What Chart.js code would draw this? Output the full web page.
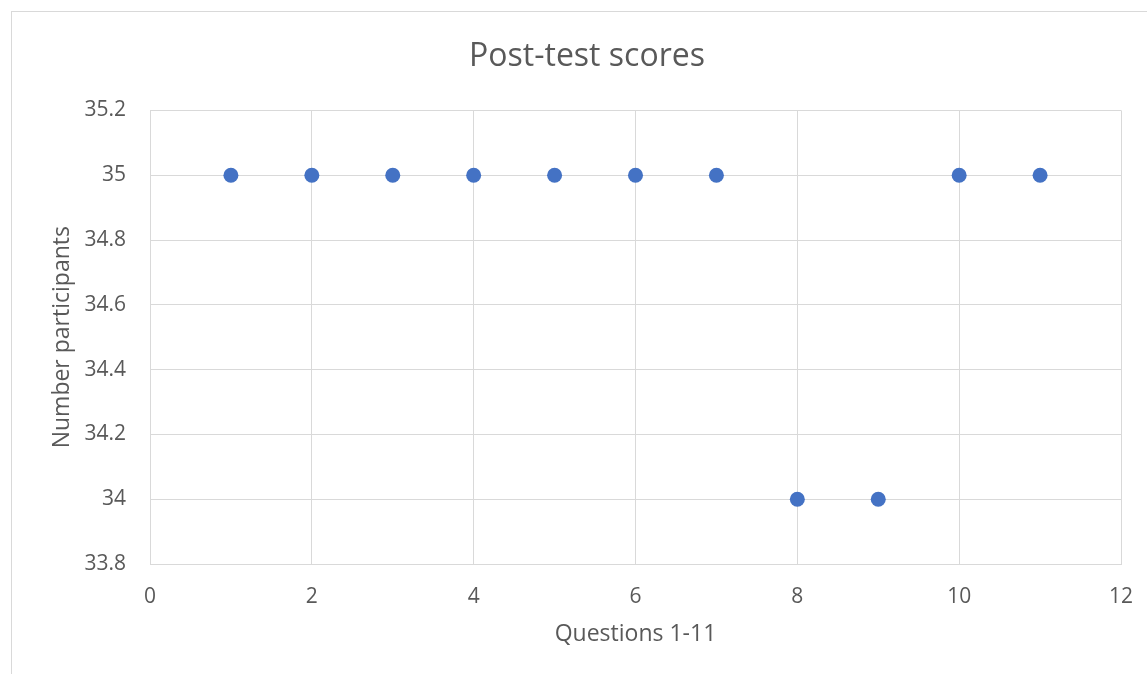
<!DOCTYPE html>
<html>
<head>
<meta charset="utf-8">
<script src="https://cdn.jsdelivr.net/npm/chart.js@4"></script>
<style>
    html, body { margin: 0; padding: 0; background: #ffffff; overflow: hidden; }
    #frame { position: absolute; left: 11px; top: 11px; width: 2000px; height: 2000px; border: 1px solid #d9d9d9; }
    #scoresChart { position: absolute; left: 0; top: 0; }
</style>
</head>
<body>
<div id="frame"></div>
<canvas id="scoresChart" width="1147" height="674"></canvas>
<script>
const questions = [1, 2, 3, 4, 5, 6, 7, 8, 9, 10, 11];
const participants = [35, 35, 35, 35, 35, 35, 35, 34, 34, 35, 35];
const xTicks = [0, 2, 4, 6, 8, 10, 12];
const yTicks = [33.8, 34, 34.2, 34.4, 34.6, 34.8, 35, 35.2];

const textColor = "#595959";
const gridColor = "#d9d9d9";
const fontFamily = "'Open Sans', sans-serif";

new Chart(document.getElementById("scoresChart"),
{
    type: "scatter",
    data:
    {
        datasets:
        [
            {
                label: "Post-test scores",
                data: questions.map((q, i) => ({ x: q, y: participants[i] })),
                backgroundColor: "#4472c4",
                borderColor: "#4472c4",
                pointRadius: 7.5,
                pointHoverRadius: 7.5,
                borderWidth: 0
            }
        ]
    },
    options:
    {
        responsive: false,
        animation: false,
        layout:
        {
            padding: { left: 53, right: 26, top: 0, bottom: 0 }
        },
        plugins:
        {
            legend: { display: false },
            tooltip: { enabled: false },
            title:
            {
                display: true,
                text: "Post-test scores",
                color: textColor,
                font: { family: fontFamily, size: 32, weight: "normal" },
                padding: { top: 38, bottom: 34 }
            }
        },
        scales:
        {
            x:
            {
                type: "linear",
                min: 0,
                max: 12,
                afterBuildTicks: scale => { scale.ticks = xTicks.map(v => ({ value: v })); },
                afterFit: scale =>
                {
                    scale.height = 110;
                    scale.paddingLeft = 0;
                    scale.paddingRight = 0;
                },
                grid: { color: gridColor, drawTicks: false },
                border: { color: gridColor },
                ticks:
                {
                    color: textColor,
                    padding: 20,
                    font: { family: fontFamily, size: 21 },
                    callback: v => String(v)
                },
                title:
                {
                    display: true,
                    text: "Questions 1-11",
                    color: textColor,
                    font: { family: fontFamily, size: 23 },
                    padding: { top: 0, bottom: 26 }
                }
            },
            y:
            {
                type: "linear",
                min: 33.8,
                max: 35.2,
                afterBuildTicks: scale => { scale.ticks = yTicks.map(v => ({ value: v })); },
                afterFit: scale => { scale.width = 97; },
                grid: { color: gridColor, drawTicks: false },
                border: { color: gridColor },
                ticks:
                {
                    color: textColor,
                    padding: 24,
                    font: { family: fontFamily, size: 21 },
                    callback: v => String(v)
                },
                title:
                {
                    display: true,
                    text: "Number participants",
                    color: textColor,
                    font: { family: fontFamily, size: 23 },
                    padding: { top: -4, bottom: 0 }
                }
            }
        }
    }
});
</script>
</body>
</html>
